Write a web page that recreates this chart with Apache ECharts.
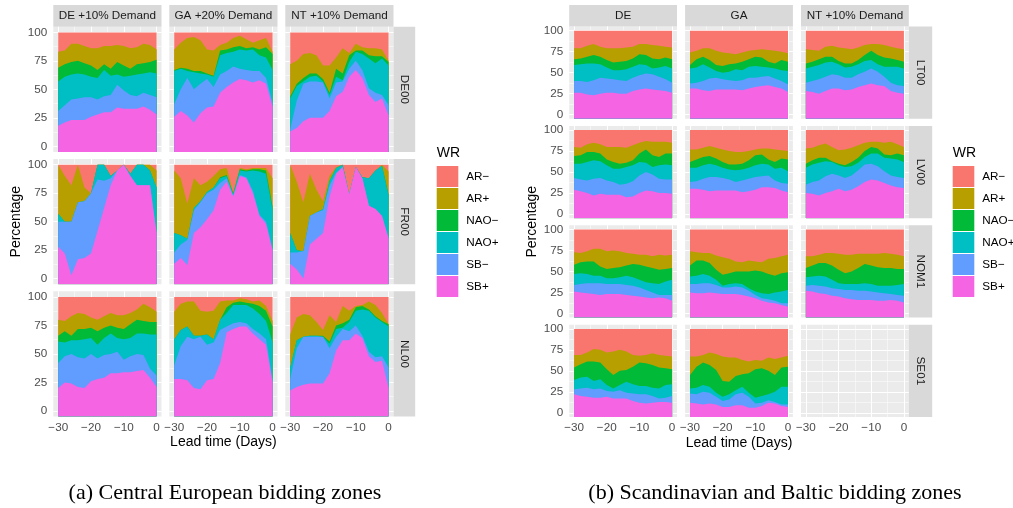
<!DOCTYPE html>
<html><head><meta charset="utf-8">
<script src="https://cdn.jsdelivr.net/npm/echarts@6/dist/echarts.min.js"></script>
<style>html,body{margin:0;padding:0;background:#fff}#c{width:1013px;height:508px}</style>
</head><body><div id="c"></div>
<script>
// ---------- data ----------
const days = [-30,-28,-26,-24,-22,-20,-18,-16,-14,-12,-10,-8,-6,-4,-2,0];
const regimes = ['SB+','SB\u2212','NAO+','NAO\u2212','AR+','AR\u2212']; // stacking order, bottom to top
const legendOrder = ['AR\u2212','AR+','NAO\u2212','NAO+','SB\u2212','SB+'];
const yTicks = [0,25,50,75,100];
const yMinor = [12.5,37.5,62.5,87.5];
const xTicks = [-30,-20,-10,0];
const xMinor = [-25,-15,-5];
const ceCols = ['DE +10% Demand','GA +20% Demand','NT +10% Demand'];
const ceRows = ['DE00','FR00','NL00'];
const sbCols = ['DE','GA','NT +10% Demand'];
const sbRows = ['LT00','LV00','NOM1','SE01'];
const captions = ['(a) Central European bidding zones','(b) Scandinavian and Baltic bidding zones'];

// each panel: [SB+, SB-, NAO+, NAO-, AR+, AR-] percentages per lead day
const DE00_DE = [
 [18,21,23,23,23,26,28,30,30,34,33,33,33,35,32,28],
 [13,15,18,19,20,17,13,14,15,20,16,12,11,12,13,15],
 [26,25,22,22,20,18,19,23,17,9,12,17,19,17,20,21],
 [12,11,11,11,10,10,7,5,6,11,10,6,9,9,9,12],
 [14,12,16,15,15,15,19,16,20,15,17,18,15,17,15,9],
 [17,16,10,10,12,14,14,12,12,11,12,14,13,10,11,15]];
const DE00_GA = [
 [26,31,27,21,29,34,35,47,52,56,59,58,56,58,55,35],
 [11,19,33,29,26,25,17,16,14,14,9,9,10,8,5,3],
 [29,18,6,15,9,4,9,17,16,13,17,17,19,14,18,29],
 [1,1,2,1,2,1,1,4,3,4,3,2,2,5,9,14],
 [18,22,27,30,27,21,22,5,6,8,9,8,4,8,8,2],
 [15,9,5,4,7,15,16,11,9,5,3,6,9,7,5,17]];
const DE00_NT = [
 [13,16,22,25,25,25,31,44,48,61,67,60,45,39,42,27],
 [2,24,33,32,32,31,11,12,9,7,8,7,6,8,3,9],
 [27,13,2,4,5,1,3,5,1,6,8,14,26,26,32,35],
 [2,2,3,3,2,2,2,7,6,6,1,3,3,6,2,3],
 [28,20,21,18,16,12,24,10,22,2,6,3,6,7,6,1],
 [28,25,19,18,20,29,29,22,14,18,10,13,14,14,15,25]];
const FR00_DE = [
 [28,22,3,17,18,22,42,62,82,95,100,90,82,82,82,40],
 [22,28,47,50,50,53,45,24,6,0,0,0,0,0,0,0],
 [7,0,0,0,0,0,13,14,2,0,0,2,18,18,13,40],
 [0,0,0,0,0,0,0,0,0,0,0,0,0,0,0,0],
 [43,40,32,33,12,0,0,0,0,0,0,0,0,0,5,15],
 [0,10,18,0,20,25,0,0,10,5,0,8,0,0,0,5]];
const FR00_GA = [
 [13,18,12,40,45,52,60,78,85,72,90,88,75,55,48,25],
 [10,12,22,20,22,23,18,6,3,1,1,1,2,1,2,1],
 [17,8,1,2,1,1,2,4,2,1,4,5,18,38,42,34],
 [0,0,0,0,0,0,0,1,1,1,1,1,1,2,3,3],
 [55,50,31,26,14,9,10,7,6,1,1,1,1,1,2,25],
 [5,12,34,12,18,15,10,4,3,24,3,4,3,3,3,12]];
const FR00_NT = [
 [13,8,0,30,35,40,72,92,98,74,98,88,64,61,55,35],
 [10,15,24,25,23,20,10,1,0,0,0,0,0,0,0,1],
 [17,2,0,0,0,1,4,4,2,0,0,1,24,34,44,37],
 [0,0,0,0,0,0,0,0,0,0,0,0,0,0,0,1],
 [60,60,43,37,20,7,4,1,0,0,0,0,0,0,1,20],
 [0,15,33,8,22,32,10,2,0,26,2,11,12,5,0,6]];
const NL00_DE = [
 [20,25,24,21,20,26,28,29,33,33,34,34,35,36,29,21],
 [22,23,26,26,26,24,18,20,17,19,11,14,15,13,8,10],
 [19,12,12,15,17,14,12,15,18,12,18,16,18,19,30,36],
 [5,10,4,10,9,9,12,9,7,9,9,12,12,11,11,11],
 [14,9,17,14,13,9,10,10,11,11,12,10,9,15,13,9],
 [20,21,17,14,15,18,20,17,14,16,16,14,11,6,9,13]];
const NL00_GA = [
 [28,28,27,20,19,27,28,42,69,72,74,74,68,63,58,25],
 [12,29,38,43,46,31,32,29,5,5,4,3,4,5,5,2],
 [23,14,9,3,1,9,3,9,12,16,15,16,18,17,16,33],
 [0,0,0,0,0,0,0,0,5,2,3,2,4,7,9,14],
 [24,23,22,30,22,20,25,16,6,2,3,3,2,5,4,5],
 [13,6,4,4,12,13,12,4,3,3,1,2,4,3,8,21]];
const NL00_NT = [
 [18,21,23,24,24,24,33,53,62,62,68,64,48,43,44,20],
 [10,34,42,41,41,41,22,12,10,8,7,2,4,4,4,18],
 [10,7,0,1,1,0,4,7,1,8,13,23,36,35,30,36],
 [0,0,0,0,0,1,2,3,4,2,3,3,1,1,1,2],
 [29,20,20,18,12,5,23,3,15,8,1,1,7,10,7,0],
 [33,18,15,16,22,29,16,22,8,12,8,7,4,7,14,24]];
const LT00_DE = [
 [26,26,24,23,25,26,26,25,25,28,30,31,30,29,28,26],
 [14,14,15,18,19,17,16,16,15,16,17,18,18,16,14,12],
 [19,20,22,20,16,13,11,12,14,13,13,10,7,11,16,17],
 [7,7,8,10,9,9,9,10,10,10,12,12,12,10,10,11],
 [13,12,13,13,12,14,17,16,16,14,12,13,16,16,13,14],
 [21,21,18,16,19,21,21,21,20,19,16,16,17,18,19,20]];
const LT00_GA = [
 [31,31,29,28,30,30,30,30,29,31,33,34,35,33,31,27],
 [6,7,11,15,14,12,11,10,12,13,11,11,11,10,9,9],
 [18,18,20,13,8,8,10,14,12,13,14,12,10,12,13,16],
 [4,10,9,9,7,8,9,7,10,9,11,11,7,6,12,11],
 [15,10,10,14,17,16,13,11,11,10,8,10,14,15,10,10],
 [26,24,21,21,24,26,27,28,26,24,23,22,23,24,25,27]];
const LT00_NT = [
 [28,27,25,28,31,31,29,30,33,35,37,35,34,28,26,25],
 [10,13,17,17,17,16,15,14,15,16,18,16,11,10,9,9],
 [17,17,17,17,15,13,12,13,12,13,10,9,12,19,22,21],
 [6,6,7,7,6,4,5,4,5,7,11,11,11,10,8,8],
 [17,14,10,12,13,16,18,17,15,12,8,13,15,14,14,15],
 [22,23,24,19,18,20,21,22,20,17,16,16,17,19,21,22]];
const LV00_DE = [
 [29,27,25,22,24,23,23,23,20,21,25,28,27,25,25,24],
 [14,14,15,20,19,17,15,12,16,18,21,22,20,17,16,17],
 [17,19,22,22,20,18,16,19,20,19,16,11,9,16,18,17],
 [9,10,12,10,9,7,8,6,5,6,10,16,14,10,13,14],
 [11,9,9,11,11,15,18,20,18,18,13,10,16,18,14,13],
 [20,21,17,15,17,20,20,20,21,18,15,13,14,14,14,15]];
const LV00_GA = [
 [30,30,29,27,28,28,28,28,26,27,29,32,32,31,28,26],
 [8,9,13,17,16,15,13,10,14,15,15,13,14,9,9,10],
 [17,16,16,16,14,12,12,14,13,13,14,15,13,14,18,15],
 [7,10,10,9,8,7,6,7,7,9,12,11,6,8,11,14],
 [15,12,11,12,13,15,16,15,14,11,7,7,13,15,10,10],
 [23,23,21,19,21,23,25,26,26,25,23,22,22,23,24,25]];
const LV00_NT = [
 [25,24,22,25,27,30,27,29,33,38,41,40,37,34,32,31],
 [10,14,18,20,21,16,16,17,19,21,19,17,14,12,12,12],
 [20,21,21,18,14,12,13,11,9,9,12,15,16,20,21,19],
 [5,5,6,4,1,2,2,5,6,7,8,6,4,4,7,8],
 [18,15,15,17,17,16,19,17,15,10,6,8,14,16,11,10],
 [22,21,18,16,20,24,23,21,18,15,14,14,15,14,17,20]];
const NOM1_DE = [
 [26,25,24,23,22,23,23,23,22,21,20,19,18,19,18,15],
 [8,10,12,13,14,12,12,12,12,12,11,9,7,3,4,7],
 [13,13,11,9,9,7,7,8,11,10,9,9,11,13,16,18],
 [11,13,15,17,11,11,12,12,12,16,18,19,18,17,15,14],
 [15,11,12,15,21,21,21,19,15,12,12,14,14,18,16,16],
 [27,28,26,23,23,26,25,26,28,29,30,30,32,30,31,30]];
const NOM1_GA = [
 [25,24,24,25,24,23,23,23,22,20,18,15,13,12,10,8],
 [10,11,12,11,10,8,8,9,9,7,4,3,4,3,2,4],
 [9,10,11,9,6,2,4,4,4,3,4,6,6,10,14,16],
 [13,18,16,15,12,13,13,14,15,20,25,26,24,20,22,21],
 [17,10,9,12,17,21,17,12,11,13,11,11,18,21,20,21],
 [26,27,28,28,31,33,35,38,39,37,38,39,35,34,32,30]];
const NOM1_NT = [
 [27,26,24,23,21,20,18,17,16,16,16,15,15,16,15,13],
 [6,8,9,9,9,9,10,11,11,11,10,10,9,7,7,8],
 [10,10,12,12,10,7,7,7,8,9,9,8,9,10,12,14],
 [11,13,15,16,17,16,13,15,19,23,22,22,21,21,19,18],
 [14,11,10,12,15,19,22,20,17,12,14,16,18,17,17,15],
 [32,32,30,28,28,29,30,30,29,29,29,29,28,29,30,32]];
const SE01_DE = [
 [22,20,19,18,18,19,17,17,17,14,12,11,12,13,13,12],
 [6,9,11,10,11,7,8,10,7,9,10,11,8,4,5,8],
 [11,13,13,10,11,7,4,6,13,11,10,10,10,12,15,14],
 [15,16,18,23,20,19,16,17,14,21,28,27,27,25,20,18],
 [15,11,11,15,15,20,28,25,22,14,8,10,14,15,15,15],
 [31,31,28,24,25,28,27,25,27,31,32,31,29,31,32,33]];
const SE01_GA = [
 [12,11,10,11,10,7,7,9,9,6,6,8,12,11,8,7],
 [11,11,15,13,9,7,9,13,15,13,5,4,3,2,2,3],
 [6,8,8,7,5,5,6,5,7,5,7,8,7,12,21,21],
 [16,25,27,26,27,19,15,17,15,23,34,33,28,20,23,24],
 [22,12,9,15,19,29,29,22,17,14,11,9,16,19,12,13],
 [33,33,31,28,30,33,34,34,37,39,37,38,34,36,34,32]];

// ---------- styles & layout ----------
const regimeColors = ['#F564E3','#619CFF','#00BFC4','#00BA38','#B79F00','#F8766D'];
const SANS = '"Liberation Sans", Arial, sans-serif';
const SMALL = 11.7;
const figures = [
  { cols: ceCols, rows: ceRows,
    panels: [[DE00_DE, DE00_GA, DE00_NT],[FR00_DE, FR00_GA, FR00_NT],[NL00_DE, NL00_GA, NL00_NT]],
    left: [53.3, 169.3, 285.3], top: [26.7, 159.0, 291.3], w: 108.2, h: 125.3,
    stripTop: 5, stripR: 21.7, legendLeft: 436.7, captionX: 225 },
  { cols: sbCols, rows: sbRows,
    panels: [[LT00_DE, LT00_GA, LT00_NT],[LV00_DE, LV00_GA, LV00_NT],[NOM1_DE, NOM1_GA, NOM1_NT],[SE01_DE, SE01_GA, null]],
    left: [569.2, 685.1, 801.0], top: [26.5, 125.9, 225.3, 324.7], w: 107.8, h: 92.3,
    stripTop: 5, stripR: 23.4, legendLeft: 952.7, captionX: 775 }
];

const gridLineData = [
  ...yTicks.map(v => ({yAxis: v, lineStyle: {color: '#fff', width: 1.1, type: 'solid'}})),
  ...yMinor.map(v => ({yAxis: v, lineStyle: {color: '#fff', width: 0.5, type: 'solid'}})),
  ...xTicks.map(v => ({xAxis: v, lineStyle: {color: '#fff', width: 1.1, type: 'solid'}})),
  ...xMinor.map(v => ({xAxis: v, lineStyle: {color: '#fff', width: 0.5, type: 'solid'}}))
];
const fmtMinus = v => (v < 0 ? '\u2212' + Math.abs(v) : String(v));

const grid = [], xAxis = [], yAxis = [], series = [], graphic = [], legend = [];

figures.forEach((f, fi) => {
  const nR = f.rows.length, nC = f.cols.length;
  f.rows.forEach((rowName, r) => {
    f.cols.forEach((colName, c) => {
      const gi = grid.length;
      grid.push({left: f.left[c], top: f.top[r], width: f.w, height: f.h,
        show: true, backgroundColor: '#EBEBEB', borderWidth: 0, z: 0});
      const isBottom = r === nR - 1, isLeft = c === 0;
      xAxis.push({type: 'value', gridIndex: gi, min: -31.5, max: 1.5,
        axisLine: {show: false}, splitLine: {show: false},
        axisTick: {show: isBottom, customValues: xTicks, length: 3.5, lineStyle: {color: '#333333', width: 1}},
        axisLabel: {show: isBottom, customValues: xTicks, margin: 5, color: '#4D4D4D', fontSize: SMALL, fontFamily: SANS, formatter: fmtMinus}});
      yAxis.push({type: 'value', gridIndex: gi, min: -5, max: 105,
        axisLine: {show: false}, splitLine: {show: false},
        axisTick: {show: isLeft, customValues: yTicks, length: 3.5, lineStyle: {color: '#333333', width: 1}},
        axisLabel: {show: isLeft, customValues: yTicks, margin: 6, color: '#4D4D4D', fontSize: SMALL, fontFamily: SANS}});
      // panel grid lines (white, under the areas)
      series.push({type: 'line', xAxisIndex: gi, yAxisIndex: gi, data: [[-30, 0]], z: 1, silent: true,
        symbol: 'none', lineStyle: {opacity: 0},
        markLine: {z: 1, zlevel: 0, silent: true, symbol: ['none','none'], label: {show: false}, animation: false,
          emphasis: {disabled: true}, data: gridLineData}});
      const pd = f.panels[r][c];
      if (pd) {
        // position stacking (like geom_area): cumulative tops, drawn from the top layer down
        let run = days.map(() => 0);
        const tops = pd.map(vals => (run = run.map((s, i) => s + vals[i])));
        for (let k = regimes.length - 1; k >= 0; k--) {
          series.push({type: 'line', name: regimes[k], xAxisIndex: gi, yAxisIndex: gi,
            data: days.map((d, i) => [d, tops[k][i]]), symbol: 'none', showSymbol: false, z: 3, silent: true,
            color: regimeColors[k], itemStyle: {color: regimeColors[k]},
            lineStyle: {width: 0}, areaStyle: {color: regimeColors[k], opacity: 1, origin: 'start'}});
        }
      }
      // top strips
      if (r === 0) {
        graphic.push({type: 'rect', silent: true, shape: {x: f.left[c], y: f.stripTop, width: f.w, height: f.top[0] - f.stripTop}, style: {fill: '#D9D9D9'}});
        graphic.push({type: 'text', silent: true, x: f.left[c] + f.w / 2, y: (f.stripTop + f.top[0]) / 2,
          style: {text: colName, fill: '#1A1A1A', font: SMALL + 'px ' + SANS, align: 'center', verticalAlign: 'middle', textAlign: 'center', textVerticalAlign: 'middle'}});
      }
      // right strips
      if (c === nC - 1) {
        const sx = f.left[c] + f.w;
        graphic.push({type: 'rect', silent: true, shape: {x: sx, y: f.top[r], width: f.stripR, height: f.h}, style: {fill: '#D9D9D9'}});
        graphic.push({type: 'text', silent: true, x: sx + f.stripR / 2, y: f.top[r] + f.h / 2, rotation: -Math.PI / 2,
          style: {text: rowName, fill: '#1A1A1A', font: SMALL + 'px ' + SANS, align: 'center', verticalAlign: 'middle', textAlign: 'center', textVerticalAlign: 'middle'}});
      }
    });
  });
  // frame grid for shared axis titles
  const fl = f.left[0], ft = f.top[0];
  const fw = f.left[nC - 1] + f.w - fl, fh = f.top[nR - 1] + f.h - ft;
  const gi = grid.length;
  grid.push({left: fl, top: ft, width: fw, height: fh, show: false});
  xAxis.push({type: 'value', gridIndex: gi, min: 0, max: 1, axisLine: {show: false}, axisTick: {show: false},
    axisLabel: {show: false}, splitLine: {show: false},
    name: 'Lead time (Days)', nameLocation: 'middle', nameGap: 19,
    nameTextStyle: {fontSize: 14, color: '#000', fontFamily: SANS}});
  yAxis.push({type: 'value', gridIndex: gi, min: 0, max: 1, axisLine: {show: false}, axisTick: {show: false},
    axisLabel: {show: false}, splitLine: {show: false},
    name: 'Percentage', nameLocation: 'middle', nameRotate: 90, nameGap: 30,
    nameTextStyle: {fontSize: 14, color: '#000', fontFamily: SANS}});
  // legend
  legend.push({data: legendOrder, orient: 'vertical', left: f.legendLeft, top: 166, padding: 0,
    itemWidth: 21.6, itemHeight: 21, itemGap: 1, icon: 'rect', selectedMode: false,
    textStyle: {fontSize: SMALL, color: '#000', fontFamily: SANS, padding: [0, 0, 0, 3]}});
  graphic.push({type: 'text', silent: true, x: f.legendLeft, y: 153.3,
    style: {text: 'WR', fill: '#000', font: '14px ' + SANS, align: 'left', verticalAlign: 'middle', textAlign: 'left', textVerticalAlign: 'middle'}});
  graphic.push({type: 'text', silent: true, x: f.captionX, y: 493,
    style: {text: captions[fi], fill: '#000', font: '22px "Liberation Serif", serif', align: 'center', verticalAlign: 'middle', textAlign: 'center', textVerticalAlign: 'middle'}});
});

const chart = echarts.init(document.getElementById('c'), null, {renderer: 'canvas'});
chart.setOption({animation: false, backgroundColor: '#fff', grid, xAxis, yAxis, series, legend, graphic});
</script></body></html>
